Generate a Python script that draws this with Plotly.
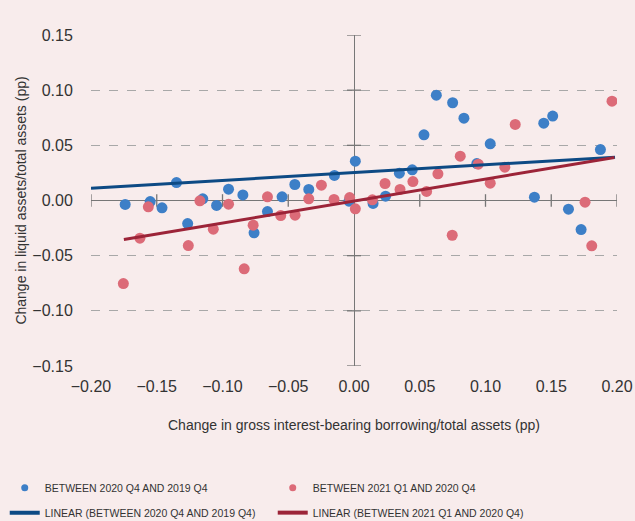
import plotly.graph_objects as go

# change in gross interest-bearing borrowing / total assets (pp) and liquid assets (pp)
q4_x = [-0.174, -0.155, -0.146, -0.135, -0.1265, -0.115, -0.1045, -0.0954, -0.0845, -0.076,
        -0.0658, -0.0547, -0.045, -0.0344, -0.0149, -0.0038, 0.001, 0.0145, 0.024, 0.0345,
        0.0443, 0.0532, 0.0626, 0.075, 0.0836, 0.0934, 0.1036, 0.1372, 0.1443, 0.1511,
        0.1631, 0.1727, 0.1874]
q4_y = [-0.0036, -0.001, -0.0066, 0.0163, -0.0209, 0.0015, -0.0045, 0.0103, 0.005, -0.0293,
        -0.010, 0.0033, 0.0145, 0.010, 0.0227, -0.0006, 0.0356, -0.0027, 0.0039, 0.0248,
        0.0278, 0.0595, 0.0955, 0.0886, 0.0746, 0.0335, 0.0514, 0.003, 0.0701, 0.0765,
        -0.0079, -0.0263, 0.0462]

q1_x = [-0.1754, -0.1628, -0.1564, -0.126, -0.1172, -0.107, -0.0954, -0.0835, -0.0767, -0.0658,
        -0.0557, -0.0448, -0.0344, -0.0248, -0.0152, -0.0033, 0.001, 0.014, 0.0236, 0.035,
        0.0448, 0.0552, 0.0638, 0.0747, 0.0808, 0.0945, 0.1036, 0.1147, 0.1226, 0.1757,
        0.1808, 0.1962]
q1_y = [-0.0753, -0.0342, -0.0057, -0.0408, -0.0003, -0.026, -0.0033, -0.0619, -0.0224, 0.0033,
        -0.0136, -0.0133, 0.0015, 0.0139, 0.0009, 0.0027, -0.0075, 0.0006, 0.0154, 0.010,
        0.0172, 0.0082, 0.0242, -0.0315, 0.0402, 0.0329, 0.0157, 0.0302, 0.0689, -0.0015,
        -0.0411, 0.090]

# linear trend lines (end points)
trend_q4_x = [-0.20, 0.1985]
trend_q4_y = [0.0112, 0.0393]
trend_q1_x = [-0.175, 0.198]
trend_q1_y = [-0.0354, 0.039]

x_ticks = [-0.20, -0.15, -0.10, -0.05, 0.00, 0.05, 0.10, 0.15, 0.20]
y_ticks = [-0.15, -0.10, -0.05, 0.00, 0.05, 0.10, 0.15]

names = ["BETWEEN 2020 Q4 AND 2019 Q4", "BETWEEN 2021 Q1 AND 2020 Q4",
         "LINEAR (BETWEEN 2020 Q4 AND 2019 Q4)", "LINEAR (BETWEEN 2021 Q1 AND 2020 Q4)"]

bg = "#f8ecec"
blue_pt = "#3d7fc7"
pink_pt = "#dc6b78"
blue_ln = "#0d4a84"
red_ln = "#9c2438"
axis_c = "#777777"
txt = "#333333"

fig = go.Figure()

# tick marks crossing the zero axes
fig.add_trace(go.Scatter(x=x_ticks, y=[0] * len(x_ticks), mode="markers", hoverinfo="skip",
                         showlegend=False,
                         marker=dict(symbol="line-ns", size=9, line=dict(color=axis_c, width=1.3))))
fig.add_trace(go.Scatter(x=[0] * len(y_ticks), y=y_ticks, mode="markers", hoverinfo="skip",
                         showlegend=False,
                         marker=dict(symbol="line-ew", size=10, line=dict(color=axis_c, width=1.3))))

fig.add_trace(go.Scatter(x=q4_x, y=q4_y, mode="markers", showlegend=False,
                         marker=dict(size=11, color=blue_pt)))
fig.add_trace(go.Scatter(x=q1_x, y=q1_y, mode="markers", showlegend=False,
                         marker=dict(size=11, color=pink_pt)))
fig.add_trace(go.Scatter(x=trend_q4_x, y=trend_q4_y, mode="lines", showlegend=False,
                         line=dict(color=blue_ln, width=3)))
fig.add_trace(go.Scatter(x=trend_q1_x, y=trend_q1_y, mode="lines", showlegend=False,
                         line=dict(color=red_ln, width=3)))

# legend entries
fig.add_trace(go.Scatter(x=[None], y=[None], mode="markers", name=names[0], legend="legend",
                         marker=dict(size=7, color=blue_pt)))
fig.add_trace(go.Scatter(x=[None], y=[None], mode="markers", name=names[1], legend="legend",
                         marker=dict(size=7, color=pink_pt)))
fig.add_trace(go.Scatter(x=[None], y=[None], mode="lines", name=names[2], legend="legend2",
                         line=dict(color=blue_ln, width=4)))
fig.add_trace(go.Scatter(x=[None], y=[None], mode="lines", name=names[3], legend="legend2",
                         line=dict(color=red_ln, width=4)))

leg_font = dict(family="Liberation Sans, Arial, sans-serif", size=10.5, color=txt)

fig.update_xaxes(range=[-0.2, 0.2], tickvals=x_ticks, tickformat=".2f",
                 showgrid=False, zeroline=True, zerolinecolor=axis_c, zerolinewidth=1.3,
                 ticks="outside", ticklen=6, tickcolor="rgba(0,0,0,0)",
                 tickfont=dict(size=16, color=txt),
                 title=dict(text="Change in gross interest-bearing borrowing/total assets (pp)",
                            font=dict(size=14, color=txt), standoff=25))
fig.update_yaxes(range=[-0.15, 0.15], tickvals=y_ticks, tickformat=".2f",
                 showgrid=True, gridcolor="#a8a8a8", gridwidth=1, griddash="dash",
                 zeroline=True, zerolinecolor=axis_c, zerolinewidth=1.3,
                 ticks="outside", ticklen=14, tickcolor="rgba(0,0,0,0)",
                 tickfont=dict(size=16, color=txt),
                 title=dict(text="Change in liquid assets/total assets (pp)",
                            font=dict(size=14, color=txt), standoff=2))

fig.update_layout(
    width=635, height=521,
    margin=dict(l=91, r=18, t=35, b=155, autoexpand=False),
    paper_bgcolor=bg, plot_bgcolor=bg,
    font=dict(family="Liberation Sans, Arial, sans-serif", color=txt),
    legend=dict(orientation="h", x=-0.164, xanchor="left", y=-0.368, yanchor="middle",
                entrywidth=223, font=leg_font, bgcolor="rgba(0,0,0,0)"),
    legend2=dict(orientation="h", x=-0.164, xanchor="left", y=-0.443, yanchor="middle",
                 entrywidth=223, font=leg_font, bgcolor="rgba(0,0,0,0)"),
)

# drop the page's default body margin so the figure sits at the window's corner
page_js = "document.body.style.margin='0px'; document.body.style.background='%s';" % bg
fig.write_html("out.html", post_script=page_js, config={"displayModeBar": False})
